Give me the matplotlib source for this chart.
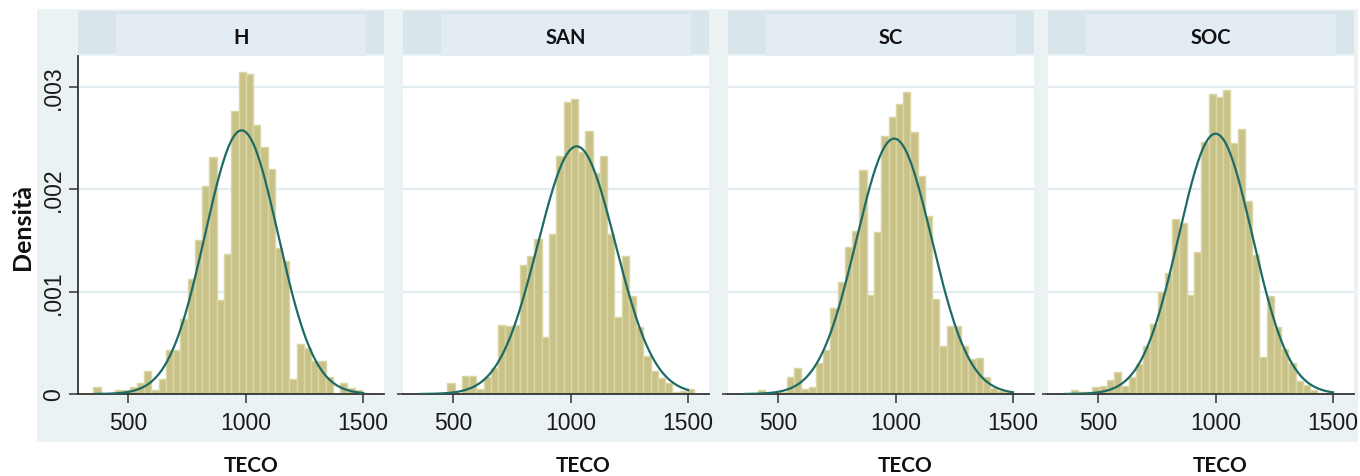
import numpy as np
import matplotlib
matplotlib.use('Agg')
import matplotlib.pyplot as plt
from matplotlib import font_manager
from matplotlib.patches import Rectangle

# histogram data (density), common bins for all groups
panels = ['H', 'SAN', 'SC', 'SOC']
bin_start = 352.0
bin_width = 30.9

dens_h = [0.00007, 0, 0, 0.00004, 0.00004, 0.00007, 0.00011, 0.00022, 0.00004, 0.00015,
          0.00043, 0.00043, 0.00073, 0.00112, 0.00150, 0.00203, 0.00231, 0.00092, 0.00137, 0.00276,
          0.00314, 0.00312, 0.00263, 0.00241, 0.00220, 0.00143, 0.00130, 0.00015, 0.00049, 0.00045,
          0.00032, 0.00032, 0.00017, 0, 0.00011, 0.00006, 0.00004, 0.00001]
dens_san = [0, 0, 0, 0, 0.00011, 0, 0.00018, 0.00018, 0.00005, 0.00017,
            0.00025, 0.00067, 0.00066, 0.00067, 0.00126, 0.00135, 0.00151, 0.00056, 0.00156, 0.00232,
            0.00285, 0.00288, 0.00236, 0.00257, 0.00216, 0.00232, 0.00156, 0.00075, 0.00135, 0.00096,
            0.00065, 0.00037, 0.00022, 0.00016, 0.00011, 0.00002, 0.00003, 0.00005]
dens_sc = [0, 0, 0.00004, 0, 0.00001, 0.00002, 0.00017, 0.00025, 0.00005, 0.00007,
           0.00030, 0.00043, 0.00084, 0.00109, 0.00144, 0.00159, 0.00219, 0.00097, 0.00158, 0.00252,
           0.00270, 0.00283, 0.00295, 0.00256, 0.00213, 0.00174, 0.00093, 0.00047, 0.00066, 0.00066,
           0.00047, 0.00034, 0.00035, 0.00017, 0.00006, 0.00003, 0.00002, 0]
dens_soc = [0, 0.00004, 0.00002, 0.00002, 0.00007, 0.00008, 0.00014, 0.00021, 0.00008, 0.00017,
            0.00029, 0.00047, 0.00068, 0.00100, 0.00118, 0.00171, 0.00167, 0.00097, 0.00139, 0.00246,
            0.00293, 0.00290, 0.00297, 0.00245, 0.00259, 0.00188, 0.00136, 0.00036, 0.00096, 0.00065,
            0.00044, 0.00030, 0.00013, 0.00009, 0.00004, 0.00001, 0.00001, 0]
densities = [dens_h, dens_san, dens_sc, dens_soc]

# normal overlay parameters
norm_mean = [983, 1026, 994, 1000]
norm_sd = [155, 165, 160, 157]
curve_lo = [365, 358, 358, 357]
curve_hi = [1501, 1500, 1500, 1500]

x_ticks = [500, 1000, 1500]
y_ticks = [0, 0.001, 0.002, 0.003]
y_ticklabels = ['0', '.001', '.002', '.003']

BAR = '#c9c288'
BAR_EDGE = '#dbd6a6'
LINE = '#1d6b64'
BG = '#eaf2f3'
GRID = '#e3edf1'
STRIP = '#d8e5ea'
STRIP_BOX = '#e3ebf3'
AXIS = '#333333'

installed = {f.name for f in font_manager.fontManager.ttflist}
num_font = 'Liberation Sans Narrow' if 'Liberation Sans Narrow' in installed else 'Liberation Sans'
num_size = 18 if num_font == 'Liberation Sans Narrow' else 16.5
lab_font = 'Lato'

W, H = 1360, 477
fig = plt.figure(figsize=(W / 100, H / 100), dpi=100)


def fx(x):
    return x / W


def fy(y):
    return 1 - y / H


# graph region background sits in its own axes under everything
bg = fig.add_axes([fx(37), fy(443), fx(1358) - fx(37), fy(10) - fy(443)], zorder=-5)
bg.set_facecolor(BG)
bg.set_xticks([])
bg.set_yticks([])
for s in bg.spines.values():
    s.set_visible(False)

ax_left = [78, 403, 728, 1048]
ax_w = 306
ax_top, ax_bot = 57, 395
label_cx = [251, 583, 905, 1220]

edges = bin_start + bin_width * np.arange(len(dens_h) + 1)

for i, name in enumerate(panels):
    l = ax_left[i]
    ax = fig.add_axes([fx(l), fy(ax_bot), ax_w / W, (ax_bot - ax_top) / H], zorder=2)
    ax.set_facecolor('white')
    ax.bar(edges[:-1], densities[i], width=bin_width, align='edge',
           color=BAR, edgecolor=BAR_EDGE, linewidth=1.0, zorder=2)
    xs = np.linspace(curve_lo[i], curve_hi[i], 300)
    ys = np.exp(-0.5 * ((xs - norm_mean[i]) / norm_sd[i]) ** 2) / (norm_sd[i] * np.sqrt(2 * np.pi))
    ax.plot(xs, ys, color=LINE, linewidth=1.6, zorder=3)

    ax.set_xlim(287, 1589)
    ax.set_ylim(0, 0.0033)
    for g in y_ticks[1:]:
        ax.axhline(g, color=GRID, linewidth=1.6, zorder=1)

    for s in ['top', 'right']:
        ax.spines[s].set_visible(False)
    ax.spines['bottom'].set_color(AXIS)
    ax.spines['bottom'].set_linewidth(1.3)
    ax.set_xticks(x_ticks)
    ax.set_xticklabels([str(t) for t in x_ticks], fontsize=num_size, family=num_font, color='#1a1a1a')
    ax.tick_params(axis='x', length=6.5, width=1.1, color=AXIS, pad=6)

    if i == 0:
        ax.spines['left'].set_color(AXIS)
        ax.spines['left'].set_linewidth(1.3)
        ax.set_yticks(y_ticks)
        ax.set_yticklabels(y_ticklabels, rotation=90, va='center',
                           fontsize=num_size, family=num_font, color='#1a1a1a')
        ax.tick_params(axis='y', length=6.5, width=1.1, color=AXIS, pad=3)
    else:
        ax.spines['left'].set_visible(False)
        ax.set_yticks([0])
        ax.set_yticklabels([])
        ax.tick_params(axis='y', length=4, width=1.1, color=AXIS)

    # strip header
    fig.patches.append(Rectangle((fx(l), fy(54.5)), ax_w / W, fy(12) - fy(54.5),
                                 transform=fig.transFigure, facecolor=STRIP, edgecolor='none', zorder=1))
    cx = l + 163
    fig.patches.append(Rectangle((fx(cx - 125), fy(57)), 250 / W, fy(15) - fy(57),
                                 transform=fig.transFigure, facecolor=STRIP_BOX, edgecolor='none', zorder=1))
    fig.text(fx(cx), fy(38), name, ha='center', va='center', fontsize=14.5,
             fontweight='bold', family=lab_font, color='#111111')

    fig.text(fx(label_cx[i]), fy(466), 'TECO', ha='center', va='center', fontsize=15,
             fontweight='bold', family=lab_font, color='#111111')

fig.text(fx(23), fy(227), 'Densità', ha='center', va='center', rotation=90, fontsize=18,
         fontweight='bold', family=lab_font, color='#111111')

fig.savefig('out.png', dpi=100)
